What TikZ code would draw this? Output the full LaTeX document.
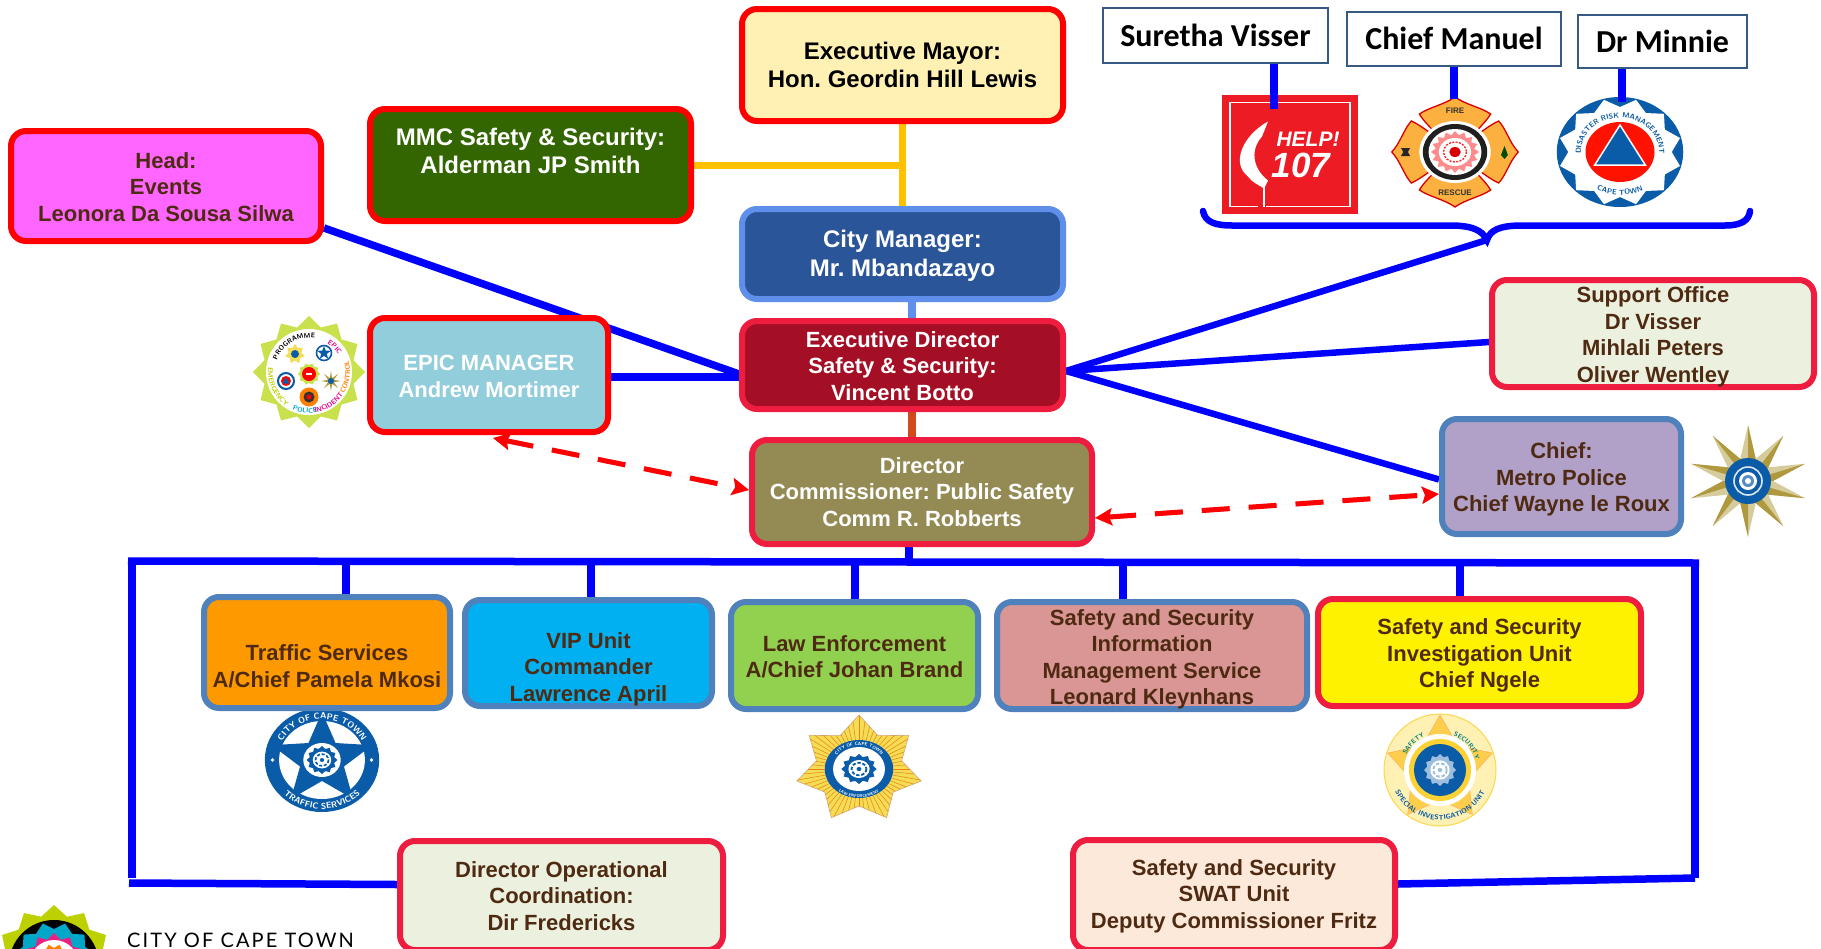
\documentclass[tikz,border=0pt]{standalone}
\usepackage{fontspec}
\setmainfont{Liberation Sans}
\newfontfamily\carlitof{Carlito}
\newfontfamily\latof[LetterSpace=10.5]{Lato}
\usetikzlibrary{arrows.meta,decorations.text,calc}
\AtBeginDocument{\frenchspacing}
\pgfdeclarelayer{background}
\pgfsetlayers{background,main}
\definecolor{txtbrown}{HTML}{4F2A12}
\definecolor{linkblue}{HTML}{0000FF}
\definecolor{strokered}{HTML}{EE1C3E}
\definecolor{strokeblue}{HTML}{4F81BD}
\definecolor{logoblue}{HTML}{0A5CA8}
\definecolor{gold}{HTML}{F5DC55}
\definecolor{cmayor}{HTML}{FFF0B3}
\definecolor{cmmc}{HTML}{336600}
\definecolor{chead}{HTML}{FF66FF}
\definecolor{ccm}{HTML}{2A5599}
\definecolor{ccmline}{HTML}{5F8FEA}
\definecolor{ced}{HTML}{A50F25}
\definecolor{cepic}{HTML}{92CDDC}
\definecolor{cdir}{HTML}{948A54}
\definecolor{cchief}{HTML}{B1A0C7}
\definecolor{cpale}{HTML}{EBF1DE}
\definecolor{ctraffic}{HTML}{FF9900}
\definecolor{cvip}{HTML}{00B0F0}
\definecolor{claw}{HTML}{92D050}
\definecolor{cinfo}{HTML}{D99694}
\definecolor{cswat}{HTML}{FDE9D9}
\definecolor{corange}{HTML}{FFC000}
\definecolor{clink}{HTML}{D04A1C}
\definecolor{chelp}{HTML}{ED1C24}
\definecolor{cfire}{HTML}{FBB040}
\definecolor{cgreen}{HTML}{C8E14C}
\definecolor{cemb}{HTML}{BDD000}
\definecolor{cembblue}{HTML}{00A7C9}
\definecolor{ckhaki}{HTML}{D6CB9A}
\definecolor{cbronze}{HTML}{B0983F}
\tikzset{
  orgbox/.style={rectangle,rounded corners=15pt,line width=6pt,inner sep=0pt,
    font=\bfseries\fontsize{22}{26.5}\selectfont,text=txtbrown},
  redbox/.style={orgbox,draw=strokered},
  purered/.style={orgbox,draw=red},
  bluebox/.style={orgbox,draw=strokeblue},
  bigfont/.style={font=\bfseries\fontsize{24}{28.5}\selectfont},
  namebox/.style={rectangle,draw=strokeblue!70!black,fill=white,line width=1.6pt,inner sep=0pt,
    font=\carlitof\bfseries\fontsize{32}{36}\selectfont,text=black},
  link/.style={draw=linkblue,line width=7.5pt},
  thinlink/.style={link,line width=6.5pt},
  orangelink/.style={draw=corange,line width=7pt},
  redlink/.style={draw=red,line width=5pt,dash pattern=on 28pt off 19pt,{Stealth[length=17pt,width=17pt,inset=3pt]}-{Stealth[length=17pt,width=17pt,inset=3pt]}},
  redshade/.style={redlink,draw=black,fill=black,opacity=.16},
}
\newcommand\tx[2]{\smash{\raisebox{\dimexpr-#1pt-5.75pt\relax}{\begin{tabular}{@{}c@{}}#2\end{tabular}}}}
\newcommand\obox[7][3]{\node[#3,minimum width={(#6-#4-4)*1pt},minimum height={(#7-#5-4)*1pt}] (#2) at ({(#4+#6)/2},{(#5+#7)/2})}
\newcommand\starp[5]{\path[#1] plot[samples at={0,...,\numexpr2*#2-1\relax},variable=\k]
  ({ifthenelse(mod(\k,2)==0,#3,#4)*cos(180*\k/#2+#5)},{ifthenelse(mod(\k,2)==0,#3,#4)*sin(180*\k/#2+#5)}) -- cycle;}
\newcommand\arctext[6]{\path[decorate,decoration={text along path,text align=center,text={|#5|#6}}]
  ({#1*cos(#3)},{-#2*sin(#3)}) arc[start angle=#3,end angle=#4,x radius=#1pt,y radius=#2pt];}
\newcommand\gearlogo[2]{%
  \starp{fill=#2}{12}{#1}{.82*#1}{0}
  \fill[white] (0,0) circle[radius=.6*#1];
  \draw[#2,line width=.12*#1,dash pattern=on .22*#1 off .12*#1] (0,0) circle[radius=.42*#1];
  \fill[#2] (0,0) circle[radius=.14*#1];
}
\begin{document}
\begin{tikzpicture}[x=1pt,y=-1pt]
\useasboundingbox (0,0) rectangle (1821,948);
\begin{pgfonlayer}{background}
% ---------- Help 107
\begin{scope}[shift={(1290,154.5)}]
  \fill[chelp] (-68,-59.5) rectangle (68,59.5);
  \draw[white,line width=1.1pt] (-32,52) -- (-60,52) -- (-60,-52) -- (60,-52) -- (60,52) -- (-24,52);
  \fill[white] (-22,-33) .. controls (-46,-20) and (-60,8) .. (-42,22) .. controls (-38,28) and (-32,30) .. (-26,34) -- (-22,26)
     .. controls (-40,12) and (-38,-8) .. (-28,-18) -- cycle;
  \draw[white,line width=1.4pt] (-26,32) -- (-26,52);
  \node[text=white,font=\bfseries\itshape\fontsize{21}{21}\selectfont,inner sep=0pt] (helptxt) at (18,-15) {HELP!};
  \node[text=white,font=\bfseries\itshape\fontsize{35}{35}\selectfont,inner sep=0pt] (numtxt) at (11,11) {107};
\end{scope}
% ---------- Fire
\begin{scope}[shift={(1455,152)},xscale=1.15]
  \foreach \a in {0,90,180,270}{
    \begin{scope}[rotate=\a]
      \path[fill=cfire,draw=red!85!black,line width=1.3pt] (-31,-38) .. controls (-22,-45) and (-10,-47) .. (0,-55)
        .. controls (10,-47) and (22,-45) .. (31,-38) .. controls (26,-28) and (16,-20) .. (12,-10) -- (-12,-10) .. controls (-16,-20) and (-26,-28) .. (-31,-38) -- cycle;
    \end{scope}}
  \fill[white] (0,0) circle[radius=31];
  \fill[black!88] (0,0) circle[radius=28];
  \fill[white] (0,0) circle[radius=23];
  \starp{fill=red!45!white}{16}{21}{17}{0}
  \fill[white] (0,0) circle[radius=14];
  \draw[red!80!pink,line width=1.4pt,dash pattern=on 2pt off 1.4pt] (0,0) circle[radius=10];
  \fill[red!85!black] (0,0) circle[radius=5];
  \node[font=\bfseries\fontsize{8}{8}\selectfont,text=black!80,inner sep=0pt] (firetxt) at (0,-41) {FIRE};
  \node[font=\bfseries\fontsize{8}{8}\selectfont,text=black!80,inner sep=0pt] (rescuetxt) at (0,41) {RESCUE};
  \fill[black!85] (-43,0) ++(-4,-4) -- ++(8,0) -- ++(-2,4) -- ++(2,4) -- ++(-8,0) -- ++(2,-4) -- cycle;
  \fill[black!70!green] (43,-6) -- (46,3) -- (43,7) -- (40,3) -- cycle;
\end{scope}
% ---------- Disaster risk management
\begin{scope}[shift={(1620,152)},xscale=1.15]
  \fill[logoblue] (0,0) circle[radius=55];
  \starp{fill=white}{12}{54}{45}{15}
  \arctext{34}{34}{195}{-15}{\sffamily\bfseries\fontsize{7.4}{8}\selectfont\color{logoblue}}{DISASTER RISK MANAGEMENT}
  \arctext{43}{43}{225}{315}{\sffamily\bfseries\fontsize{7.4}{8}\selectfont\color{logoblue}}{CAPE TOWN}
  \fill[red!85!orange] (0,0) circle[radius=30];
  \path[fill=logoblue,draw=white,line width=1.5pt] (0,-27) -- (-22,13) -- (22,13) -- cycle;
\end{scope}
% ---------- EPIC programme
\begin{scope}[shift={(309,372)}]
  \starp{fill=cgreen}{12}{56}{46}{0}
  \fill[white] (0,0) circle[radius=43];
  \arctext{34}{34}{170}{70}{\sffamily\bfseries\fontsize{6.8}{7}\selectfont\color{black}}{PROGRAMME}
  \arctext{34}{34}{68}{20}{\sffamily\bfseries\fontsize{6.8}{7}\selectfont\color{magenta}}{EPIC}
  \arctext{41}{41}{160}{250}{\sffamily\bfseries\fontsize{6.8}{7}\selectfont\color{cemb}}{EMERGENCY}
  \arctext{41}{41}{245}{283}{\sffamily\bfseries\fontsize{6.8}{7}\selectfont\color{cembblue}}{POLICE}
  \arctext{41}{41}{275}{330}{\sffamily\bfseries\fontsize{6.8}{7}\selectfont\color{magenta}}{INCIDENT}
  \arctext{41}{41}{320}{385}{\sffamily\bfseries\fontsize{6.8}{7}\selectfont\color{orange}}{CONTROL}
  \begin{scope}[shift={(-14,-18)}] \starp{fill=gold}{7}{10}{6.5}{-90} \fill[logoblue] (0,0) circle[radius=4]; \end{scope}
  \begin{scope}[shift={(15,-19)}] \draw[logoblue,line width=1.6pt] (0,0) circle[radius=7.5]; \starp{fill=logoblue}{5}{7}{3}{-90} \end{scope}
  \begin{scope}[shift={(-23,9)}] \draw[logoblue,line width=2pt] (0,0) circle[radius=8]; \fill[red] (0,0) circle[radius=5]; \fill[logoblue] (0,-4) -- (-3.5,2.5) -- (3.5,2.5) -- cycle; \end{scope}
  \begin{scope}[shift={(0,2)}] \starp{fill=cgreen}{10}{11}{9}{0} \fill[red] (0,0) circle[radius=7]; \fill[white] (-3,-1) rectangle (3,1); \end{scope}
  \begin{scope}[shift={(22,9)}] \starp{fill=cbronze}{8}{10}{3}{-90} \fill[logoblue] (0,0) circle[radius=3]; \end{scope}
  \begin{scope}[shift={(0,25)}] \fill[orange] (0,0) circle[radius=9.5]; \fill[black!80] (0,0) circle[radius=5.5]; \fill[red] (0,0) circle[radius=2.5]; \end{scope}
\end{scope}
% ---------- Traffic services
\begin{scope}[shift={(322,760)},xscale=1.1]
  \fill[logoblue] (0,0) circle[radius=52];
  \fill[white] (0,0) circle[radius=39];
  \starp{fill=logoblue}{5}{48}{21}{-90}
  \fill[white] (0,0) circle[radius=17];
  \begin{scope}\gearlogo{14}{logoblue}\end{scope}
  \fill[white] (-45,0) circle[radius=1.8];
  \fill[white] (45,0) circle[radius=1.8];
  \arctext{41}{41}{170}{10}{\sffamily\bfseries\fontsize{8.6}{9}\selectfont\color{white}}{CITY OF CAPE TOWN}
  \arctext{49}{49}{205}{335}{\sffamily\bfseries\fontsize{8.6}{9}\selectfont\color{white}}{TRAFFIC SERVICES}
\end{scope}
% ---------- Law enforcement
\begin{scope}[shift={(859,769)},xscale=1.18]
  \starp{fill=gold,draw=orange!50!gray!70,line width=.6pt}{7}{54}{37}{-90}
  \begin{scope}
    \starp{clip}{7}{54}{37}{-90}
    \foreach \a in {0,6,...,354}{\draw[orange!70!brown,line width=.5pt] (\a:28pt) -- (\a:56pt);}
  \end{scope}
  \fill[logoblue] (0,0) circle[radius=29];
  \fill[white] (0,0) circle[radius=22];
  \arctext{23.5}{23.5}{165}{15}{\sffamily\bfseries\fontsize{4.5}{5}\selectfont\color{white}}{CITY OF CAPE TOWN}
  \arctext{28.5}{28.5}{215}{325}{\sffamily\bfseries\fontsize{4}{5}\selectfont\color{white}}{LAW ENFORCEMENT}
  \begin{scope}\gearlogo{15}{logoblue}\end{scope}
\end{scope}
% ---------- Special investigation unit
\begin{scope}[shift={(1440,770)}]
  \fill[cmayor] (0,0) circle[radius=56];
  \draw[yellow!60!orange!70,line width=1pt] (0,0) circle[radius=56];
  \starp{fill=yellow!50!orange!70,draw=orange!60,line width=.6pt}{5}{55}{30}{-90}
  \fill[white] (0,0) circle[radius=36];
  \fill[yellow!60!orange!80] (0,0) circle[radius=31];
  \fill[logoblue] (0,0) circle[radius=26];
  \begin{scope}\gearlogo{16}{logoblue!40}\end{scope}
  \arctext{37}{37}{165}{105}{\sffamily\bfseries\fontsize{6.5}{7}\selectfont\color{teal}}{SAFETY}
  \arctext{37}{37}{75}{10}{\sffamily\bfseries\fontsize{6.5}{7}\selectfont\color{teal}}{SECURITY}
  \arctext{50}{50}{185}{355}{\sffamily\bfseries\fontsize{7}{7}\selectfont\color{teal!70!blue}}{SPECIAL INVESTIGATION UNIT}
\end{scope}
% ---------- Metro police
\begin{scope}[shift={(1748,481)},yscale=.93]
  \starp{fill=ckhaki}{10}{60}{25}{-90}
  \foreach \k in {0,...,9}{
    \fill[cbronze] (0,0) -- ({60*cos(36*\k-90)},{60*sin(36*\k-90)}) -- ({25*cos(36*\k-72)},{25*sin(36*\k-72)}) -- cycle;}
\end{scope}
\begin{scope}[shift={(1748,481)}]
  \fill[logoblue] (0,0) circle[radius=23];
  \draw[white!85!logoblue,line width=1.6pt] (0,0) circle[radius=14];
  \fill[white] (0,0) circle[radius=9];
  \fill[logoblue!70] (0,0) circle[radius=6];
  \fill[white] (0,0) circle[radius=3];
\end{scope}
% ---------- City emblem, lower left
\begin{scope}[shift={(54,965)}]
  \starp{fill=cemb}{12}{60}{50}{0}
  \fill[black] (0,0) circle[radius=45];
  \starp{fill=cembblue}{12}{43}{36}{15}
  \starp{fill=magenta!80!red!90}{12}{32}{26}{0}
  \fill[white] (0,0) circle[radius=25];
  \starp{fill=orange}{12}{21}{17}{15}
\end{scope}
\end{pgfonlayer}

% ---------- boxes
\obox{mayor}{purered,fill=cmayor,text=black,bigfont}{740}{7}{1065}{123} {\tx{3.5}{Executive Mayor:\\Hon. Geordin Hill Lewis}};
\obox{mmc}{purered,fill=cmmc,text=white,bigfont}{368}{107}{693}{223} {\tx{-10.5}{MMC Safety \& Security:\\Alderman JP Smith}};
\obox{head}{purered,fill=chead}{9}{129}{323}{243} {\tx{3}{Head:\\Events\\Leonora Da Sousa Silwa}};
\obox{cm}{bluebox,draw=ccmline,fill=ccm,text=white,bigfont}{740}{207}{1065}{301} {\tx{3}{City Manager:\\Mr. Mbandazayo}};
\obox{ed}{redbox,fill=ced,text=white}{740}{319}{1065}{411} {\tx{3}{Executive Director\\Safety \& Security:\\Vincent Botto}};
\obox{epic}{purered,fill=cepic,text=white}{368}{316}{610}{434} {\tx{3}{EPIC MANAGER\\Andrew Mortimer}};
\obox{director}{redbox,fill=cdir,text=white}{750}{438}{1094}{546} {\tx{2}{Director\\Commissioner: Public Safety\\Comm R. Robberts}};
\obox{chief}{bluebox,fill=cchief}{1440}{417}{1683}{536} {\tx{3}{Chief:\\Metro Police\\Chief Wayne le Roux}};
\obox{support}{redbox,fill=cpale}{1490}{278}{1816}{389} {\tx{3}{Support Office\\Dr Visser\\Mihlali Peters\\Oliver Wentley}};
\obox{traffic}{bluebox,fill=ctraffic}{202}{595}{452}{710} {\tx{15.5}{Traffic Services\\A/Chief Pamela Mkosi}};
\obox{vip}{bluebox,fill=cvip}{463}{598}{714}{708} {\tx{16}{VIP Unit\\Commander\\Lawrence April}};
\obox{law}{bluebox,fill=claw}{729}{600}{980}{711} {\tx{3}{Law Enforcement\\A/Chief Johan Brand}};
\obox{info}{bluebox,fill=cinfo}{995}{600}{1309}{711} {\tx{3.5}{Safety and Security\\Information\\Management Service\\Leonard Kleynhans}};
\obox{invest}{redbox,fill=yellow}{1316}{597}{1643}{708} {\tx{3}{Safety and Security\\Investigation Unit\\Chief Ngele}};
\obox{dirop}{redbox,fill=cpale}{398}{839}{725}{952} {\tx{2.5}{Director Operational\\Coordination:\\Dir Fredericks}};
\obox{swat}{redbox,fill=cswat}{1071}{838}{1397}{952} {\tx{1}{Safety and Security\\SWAT Unit\\Deputy Commissioner Fritz}};
\obox{suretha}{namebox}{1101}{6}{1330}{65} {\tx{4}{Suretha Visser}};
\obox{manuel}{namebox}{1345}{10}{1563}{68} {\tx{4}{Chief Manuel}};
\obox{minnie}{namebox}{1576}{13}{1749}{70} {\tx{4}{Dr Minnie}};
\node[anchor=base west,inner sep=0pt,font=\latof\fontsize{20}{22}\selectfont,text=black] (cityname) at (127,947) {CITY OF CAPE TOWN};

% ---------- connectors
\begin{pgfonlayer}{background}
\coordinate (tip) at (1487,240);
\coordinate (busL) at (128,561);
\coordinate (busR) at (1699,563);
\coordinate (cornerL) at (132,878);
\coordinate (cornerLb) at (129,883);
\coordinate (cornerR) at (1695,878);
\coordinate (edw) at ([yshift=-12pt]ed.west);
\draw[orangelink] (mayor.south) -- (cm.north);
\draw[orangelink] (mmc.east) -- (mayor.south |- mmc.east);
\draw[draw=ccmline,line width=8pt] ([xshift=9pt]cm.south) -- ([xshift=9pt]ed.north);
\draw[draw=clink,line width=8pt] ([xshift=9pt]ed.south) -- ([xshift=9pt]ed.south |- director.north);
\draw[link] ([yshift=-42pt]head.east) -- ([yshift=-9pt]ed.west);
\draw[link] (epic.east |- edw) -- (edw);
\draw[thinlink] ([yshift=-6pt]ed.east) -- (tip);
\draw[thinlink] ([yshift=-6pt]ed.east) -- ([yshift=-8.5pt]support.west);
\draw[thinlink] ([yshift=-6pt]ed.east) -- ([yshift=-3pt]chief.west);
\draw[link] ([xshift=-13pt]director.south) -- ++(0,15);
\draw[link] (busL) -- (busR);
\draw[link] (busL) ++(4,0) -- (cornerL);
\draw[link] (busR) ++(-4,-3) -- (cornerR);
\draw[link] ([yshift=11pt]dirop.west) -- (cornerLb);
\draw[link] ([yshift=11pt]swat.east) -- (cornerR);
\draw[link] ([xshift=19pt]traffic.north) -- ++(0,-33);
\draw[link] ([xshift=2.5pt]vip.north) -- ++(0,-36);
\draw[link] ([xshift=.5pt]law.north) -- ++(0,-38);
\draw[link] ([xshift=-29pt]info.north) -- ++(0,-38);
\draw[link] ([xshift=-19.5pt]invest.north) -- ++(0,-35);
\draw[link] (suretha.south -| 1274,0) -- ++(0,45);
\draw[link] (manuel.south -| 1454,0) -- ++(0,32);
\draw[link] (minnie.south -| 1622,0) -- ++(0,33);
\draw[thinlink,line cap=round] (1203,211) .. controls (1205,222) and (1215,225.5) .. (1232,225.5) -- (1450,225.5)
   .. controls (1472,225.5) and (1482,230) .. (tip) .. controls (1490,230) and (1500,225.5) .. (1522,225.5) -- (1725,225.5)
   .. controls (1742,225.5) and (1749,220) .. (1750,211);
\end{pgfonlayer}
\begin{scope}[xshift=3pt,yshift=-4pt]
\draw[redshade] ([xshift=4pt,yshift=-3pt]epic.south) -- ([yshift=2pt]director.west);
\draw[redshade] ([yshift=-26pt]director.east) -- ([yshift=-17.5pt]chief.west);
\end{scope}
\draw[redlink] ([xshift=4pt,yshift=-3pt]epic.south) -- ([yshift=2pt]director.west);
\draw[redlink] ([yshift=-26pt]director.east) -- ([yshift=-17.5pt]chief.west);
\end{tikzpicture}
\end{document}
